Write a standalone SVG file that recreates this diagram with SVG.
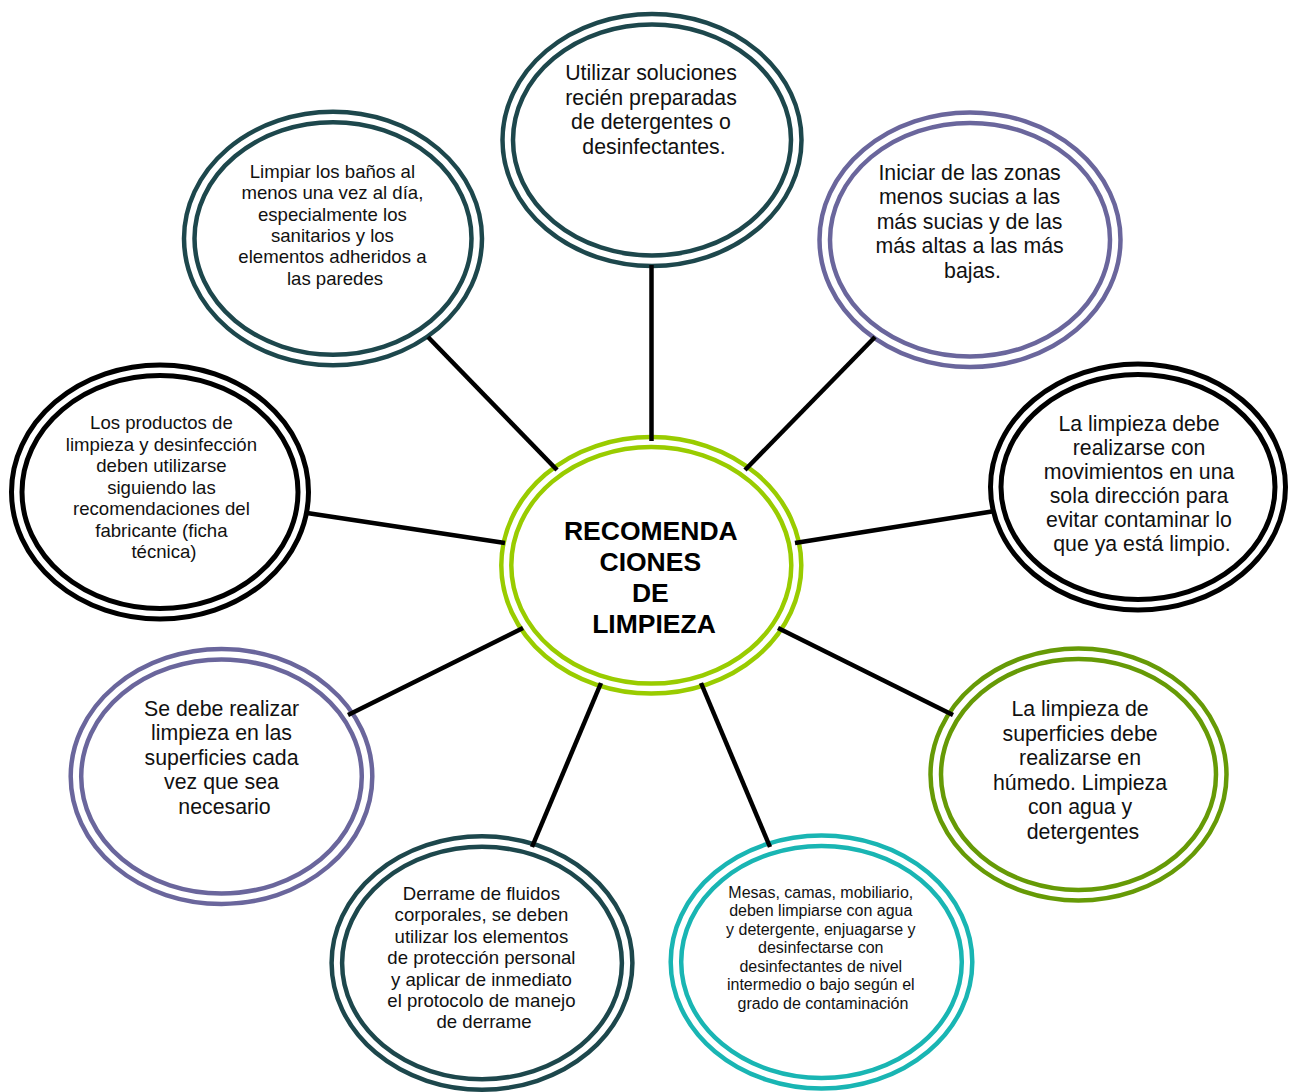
<svg xmlns="http://www.w3.org/2000/svg" width="1294" height="1092" viewBox="0 0 1294 1092">
  <style>
    .bg { fill: #ffffff; }
    .ring { fill: #ffffff; stroke-width: 4.5; }
    .ring-in { fill: none; stroke-width: 4.5; }
    .k .ring, .k .ring-in { stroke: #000000; stroke-width: 5; }
    .dt .ring, .dt .ring-in { stroke: #1d474c; }
    .pu .ring, .pu .ring-in { stroke: #6a669c; }
    .lg .ring, .lg .ring-in { stroke: #99cc00; }
    .og .ring, .og .ring-in { stroke: #669a06; }
    .cy .ring, .cy .ring-in { stroke: #19b5b3; }
    text { font-family: "Liberation Sans", Arial, sans-serif; fill: #111111; text-anchor: middle; }
    .f21 { font-size: 21.3px; }
    .f18 { font-size: 18.6px; }
    .f16 { font-size: 16px; }
    .title { font-size: 26.5px; font-weight: bold; fill: #000000; }
    .links line { stroke: #000000; stroke-width: 4.5; stroke-linecap: butt; }
  </style>

  <rect class="bg" x="0" y="0" width="1294" height="1092"/>

  <!-- central hub -->
  <g id="hub" class="lg">
    <ellipse class="ring" cx="651.3" cy="565.3" rx="150" ry="128.3"/>
    <ellipse class="ring-in" cx="651.3" cy="565.3" rx="140" ry="118.3"/>
    <text class="title">
      <tspan x="654" y="540">RECOMENDA</tspan>
      <tspan x="654" y="571">CIONES</tspan>
      <tspan x="654" y="602">DE</tspan>
      <tspan x="654" y="633">LIMPIEZA</tspan>
    </text>
  </g>

  <!-- top -->
  <g id="n-soluciones" class="dt">
    <ellipse class="ring" cx="652" cy="140" rx="149.5" ry="126"/>
    <ellipse class="ring-in" cx="652" cy="140" rx="139" ry="115.5"/>
    <text class="f21">
      <tspan x="654" y="80">Utilizar soluciones</tspan>
      <tspan x="654" y="104.5">recién preparadas</tspan>
      <tspan x="654" y="129">de detergentes o</tspan>
      <tspan x="654" y="153.5">desinfectantes.</tspan>
    </text>
  </g>

  <!-- top left -->
  <g id="n-banos" class="dt">
    <ellipse class="ring" cx="333" cy="238.5" rx="149" ry="126.7"/>
    <ellipse class="ring-in" cx="333" cy="238.5" rx="138.5" ry="116.2"/>
    <text class="f18">
      <tspan x="335" y="178">Limpiar los baños al</tspan>
      <tspan x="335" y="199.3">menos una vez al día,</tspan>
      <tspan x="335" y="220.6">especialmente los</tspan>
      <tspan x="335" y="241.9">sanitarios y los</tspan>
      <tspan x="335" y="263.2">elementos adheridos a</tspan>
      <tspan x="335" y="284.5">las paredes</tspan>
    </text>
  </g>

  <!-- top right -->
  <g id="n-zonas" class="pu">
    <ellipse class="ring" cx="970" cy="239.7" rx="150.5" ry="127.3"/>
    <ellipse class="ring-in" cx="970" cy="239.7" rx="140" ry="116.8"/>
    <text class="f21">
      <tspan x="972.5" y="179.5">Iniciar de las zonas</tspan>
      <tspan x="972.5" y="204">menos sucias a las</tspan>
      <tspan x="972.5" y="228.5">más sucias y de las</tspan>
      <tspan x="972.5" y="253">más altas a las más</tspan>
      <tspan x="972.5" y="277.5">bajas.</tspan>
    </text>
  </g>

  <!-- right -->
  <g id="n-direccion" class="k">
    <ellipse class="ring" cx="1138" cy="487" rx="147.5" ry="123"/>
    <ellipse class="ring-in" cx="1138" cy="487" rx="137" ry="112.5"/>
    <text class="f21">
      <tspan x="1142" y="431">La limpieza debe</tspan>
      <tspan x="1142" y="455">realizarse con</tspan>
      <tspan x="1142" y="479">movimientos en una</tspan>
      <tspan x="1142" y="503">sola dirección para</tspan>
      <tspan x="1142" y="527">evitar contaminar lo</tspan>
      <tspan x="1142" y="551">que ya está limpio.</tspan>
    </text>
  </g>

  <!-- bottom right -->
  <g id="n-humedo" class="og">
    <ellipse class="ring" cx="1078.5" cy="774.5" rx="148" ry="126"/>
    <ellipse class="ring-in" cx="1078.5" cy="774.5" rx="137.5" ry="115.5"/>
    <text class="f21">
      <tspan x="1083" y="716">La limpieza de</tspan>
      <tspan x="1083" y="740.5">superficies debe</tspan>
      <tspan x="1083" y="765">realizarse en</tspan>
      <tspan x="1083" y="789.5">húmedo. Limpieza</tspan>
      <tspan x="1083" y="814">con agua y</tspan>
      <tspan x="1083" y="838.5">detergentes</tspan>
    </text>
  </g>

  <!-- bottom, cyan -->
  <g id="n-mobiliario" class="cy">
    <ellipse class="ring" cx="821.5" cy="962" rx="150.8" ry="126.5"/>
    <ellipse class="ring-in" cx="821.5" cy="962" rx="140.3" ry="116"/>
    <text class="f16">
      <tspan x="823" y="897.5">Mesas, camas, mobiliario,</tspan>
      <tspan x="823" y="916">deben limpiarse con agua</tspan>
      <tspan x="823" y="934.5">y detergente, enjuagarse y</tspan>
      <tspan x="823" y="953">desinfectarse con</tspan>
      <tspan x="823" y="971.5">desinfectantes de nivel</tspan>
      <tspan x="823" y="990">intermedio o bajo según el</tspan>
      <tspan x="823" y="1008.5">grado de contaminación</tspan>
    </text>
  </g>

  <!-- bottom, dark teal -->
  <g id="n-derrame" class="dt">
    <ellipse class="ring" cx="482" cy="963" rx="150.4" ry="126.7"/>
    <ellipse class="ring-in" cx="482" cy="963" rx="139.9" ry="116.2"/>
    <text class="f18">
      <tspan x="484" y="900">Derrame de fluidos</tspan>
      <tspan x="484" y="921.4">corporales, se deben</tspan>
      <tspan x="484" y="942.8">utilizar los elementos</tspan>
      <tspan x="484" y="964.2">de protección personal</tspan>
      <tspan x="484" y="985.6">y aplicar de inmediato</tspan>
      <tspan x="484" y="1007">el protocolo de manejo</tspan>
      <tspan x="484" y="1028.4">de derrame</tspan>
    </text>
  </g>

  <!-- bottom left -->
  <g id="n-superficies" class="pu">
    <ellipse class="ring" cx="221.5" cy="776.5" rx="150.8" ry="127.5"/>
    <ellipse class="ring-in" cx="221.5" cy="776.5" rx="140.3" ry="117"/>
    <text class="f21">
      <tspan x="224.5" y="716">Se debe realizar</tspan>
      <tspan x="224.5" y="740.4">limpieza en las</tspan>
      <tspan x="224.5" y="764.8">superficies cada</tspan>
      <tspan x="224.5" y="789.2">vez que sea</tspan>
      <tspan x="224.5" y="813.6">necesario</tspan>
    </text>
  </g>

  <!-- left -->
  <g id="n-productos" class="k">
    <ellipse class="ring" cx="160" cy="492" rx="148.5" ry="127"/>
    <ellipse class="ring-in" cx="160" cy="492" rx="138" ry="116.5"/>
    <text class="f18">
      <tspan x="164" y="429">Los productos de</tspan>
      <tspan x="164" y="450.5">limpieza y desinfección</tspan>
      <tspan x="164" y="472">deben utilizarse</tspan>
      <tspan x="164" y="493.5">siguiendo las</tspan>
      <tspan x="164" y="515">recomendaciones del</tspan>
      <tspan x="164" y="536.5">fabricante (ficha</tspan>
      <tspan x="164" y="558">técnica)</tspan>
    </text>
  </g>

  <!-- spokes from the hub to each recommendation -->
  <g id="links" class="links">
    <line x1="651.5" y1="441" x2="651.5" y2="265"/>
    <line x1="557" y1="470" x2="428" y2="337"/>
    <line x1="745" y1="470" x2="875" y2="337"/>
    <line x1="795" y1="543" x2="995" y2="511"/>
    <line x1="778" y1="628" x2="953" y2="715"/>
    <line x1="701" y1="683" x2="770" y2="847"/>
    <line x1="601" y1="683" x2="532" y2="847"/>
    <line x1="523" y1="628" x2="348" y2="715"/>
    <line x1="505" y1="543" x2="307" y2="513"/>
  </g>
</svg>
